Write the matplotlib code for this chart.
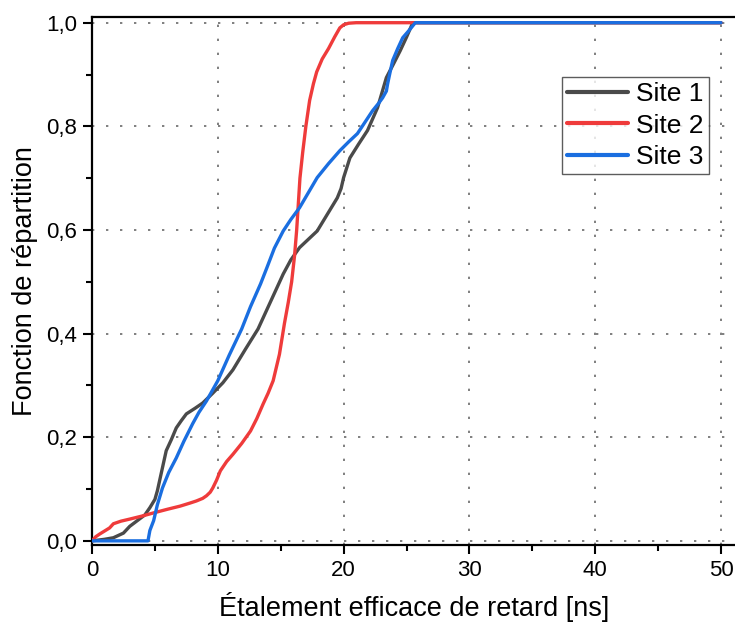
import matplotlib
matplotlib.use("Agg")
import matplotlib.pyplot as plt
from matplotlib.ticker import MultipleLocator, FuncFormatter

plt.rcParams['font.family'] = ['Liberation Sans', 'DejaVu Sans']

# Site 1 (dark grey)
site1_x = [0, 1.0, 1.7, 2.5, 3.0, 3.6, 4.2, 4.6, 5.0, 5.2, 5.5, 5.9, 6.3, 6.7, 7.1, 7.5, 8.2, 8.8,
           9.6, 10.4, 11.2, 12.2, 13.2, 14.2, 15.2, 15.8, 16.5, 17.2, 17.9, 18.7, 19.5, 19.8, 20.0,
           20.5, 21.2, 21.9, 22.7, 23.4, 24.0, 24.5, 25.0, 25.5, 50]
site1_y = [0, 0.003, 0.006, 0.015, 0.028, 0.039, 0.05, 0.064, 0.08, 0.097, 0.13, 0.174, 0.195, 0.218,
           0.232, 0.245, 0.256, 0.266, 0.285, 0.305, 0.33, 0.37, 0.409, 0.462, 0.515, 0.542, 0.566,
           0.582, 0.598, 0.63, 0.662, 0.68, 0.701, 0.739, 0.766, 0.792, 0.836, 0.894, 0.922, 0.946,
           0.972, 1.0, 1.0]

# Site 2 (red)
site2_x = [0, 0.3, 0.6, 1.4, 1.7, 2.3, 3.0, 4.0, 4.9, 6.0, 7.0, 7.8, 8.3, 8.8, 9.1, 9.4, 9.6, 9.9,
           10.2, 10.7, 11.2, 11.9, 12.6, 13.1, 13.6, 14.0, 14.4, 14.9, 15.3, 15.6, 15.87, 16.1, 16.27,
           16.4, 16.53, 16.75, 17.0, 17.3, 17.6, 17.86, 18.3, 18.8, 19.3, 19.7, 20.0, 20.4, 21.0, 50]
site2_y = [0, 0.008, 0.013, 0.025, 0.033, 0.038, 0.042, 0.048, 0.054, 0.061, 0.067, 0.073, 0.077,
           0.082, 0.087, 0.094, 0.102, 0.117, 0.135, 0.153, 0.167, 0.188, 0.212, 0.236, 0.264, 0.285,
           0.309, 0.36, 0.42, 0.46, 0.5, 0.55, 0.6, 0.65, 0.7, 0.75, 0.8, 0.85, 0.882, 0.905, 0.93,
           0.95, 0.973, 0.99, 0.996, 0.999, 1.0, 1.0]

# Site 3 (blue)
site3_x = [0, 4.45, 4.6, 4.9, 5.2, 5.6, 6.1, 6.7, 7.3, 8.0, 8.5, 9.1, 10.0, 10.9, 11.9, 12.6, 13.4,
           13.9, 14.5, 15.2, 15.8, 16.5, 17.2, 17.9, 18.8, 19.7, 20.4, 21.1, 21.7, 22.3, 22.8, 23.1,
           23.4, 23.5, 23.7, 23.9, 24.3, 24.7, 25.2, 25.7, 50]
site3_y = [0, 0, 0.02, 0.039, 0.07, 0.102, 0.132, 0.16, 0.192, 0.226, 0.248, 0.27, 0.309, 0.358,
           0.409, 0.452, 0.496, 0.527, 0.565, 0.598, 0.62, 0.643, 0.672, 0.701, 0.728, 0.753, 0.77,
           0.786, 0.808, 0.83, 0.845, 0.855, 0.868, 0.882, 0.905, 0.927, 0.95, 0.971, 0.985, 1.0, 1.0]

labels = ["Site 1", "Site 2", "Site 3"]
colors = ["#4a4a4a", "#ef3b3b", "#1a6ee0"]

W, H = 735, 626
left_px, right_px, top_px, bottom_px = 92, 737, 17, 545

fig = plt.figure(figsize=(W / 100, H / 100), dpi=100)
ax = fig.add_axes([left_px / W, 1 - bottom_px / H, (right_px - left_px) / W, (bottom_px - top_px) / H])

for xs, ys, lab, c in zip([site1_x, site2_x, site3_x], [site1_y, site2_y, site3_y], labels, colors):
    ax.plot(xs, ys, color=c, lw=2.4, label=lab, solid_joinstyle='round',
            solid_capstyle='round', zorder=3)

ax.set_xlim(0, 50 * (right_px - left_px) / 629)
ax.set_ylim(-0.008, 1.011)
ax.xaxis.set_major_locator(MultipleLocator(10))
ax.xaxis.set_minor_locator(MultipleLocator(5))
ax.yaxis.set_major_locator(MultipleLocator(0.2))
ax.yaxis.set_minor_locator(MultipleLocator(0.1))
ax.yaxis.set_major_formatter(FuncFormatter(lambda v, p: f"{v:.1f}".replace('.', ',')))

ax.grid(True, which='major', color='#7f7f7f', linestyle=(0, (1.2, 6)), linewidth=1.4, zorder=1)
ax.tick_params(which='major', direction='out', length=6.5, width=1.5, labelsize=16, pad=4)
ax.tick_params(which='minor', direction='out', length=4, width=1.5)
ax.tick_params(axis='x', top=False)
ax.tick_params(axis='y', right=False)
for s in ax.spines.values():
    s.set_linewidth(1.6)
ax.spines['right'].set_visible(False)

ax.set_xlabel("Étalement efficace de retard [ns]", fontsize=19.5, labelpad=8)
ax.set_ylabel("Fonction de répartition", fontsize=19.5, labelpad=6)

leg = ax.legend(loc='upper left',
                bbox_to_anchor=((562 - left_px) / (right_px - left_px), 1 - (77 - top_px) / (bottom_px - top_px)),
                fontsize=19, frameon=True, fancybox=False, edgecolor='#333333',
                handlelength=2.3, handletextpad=0.3, borderpad=0.2, labelspacing=0.28,
                borderaxespad=0)
leg.get_frame().set_linewidth(1.0)
for h in leg.get_lines():
    h.set_linewidth(3.0)

fig.savefig("out.png", dpi=100)
